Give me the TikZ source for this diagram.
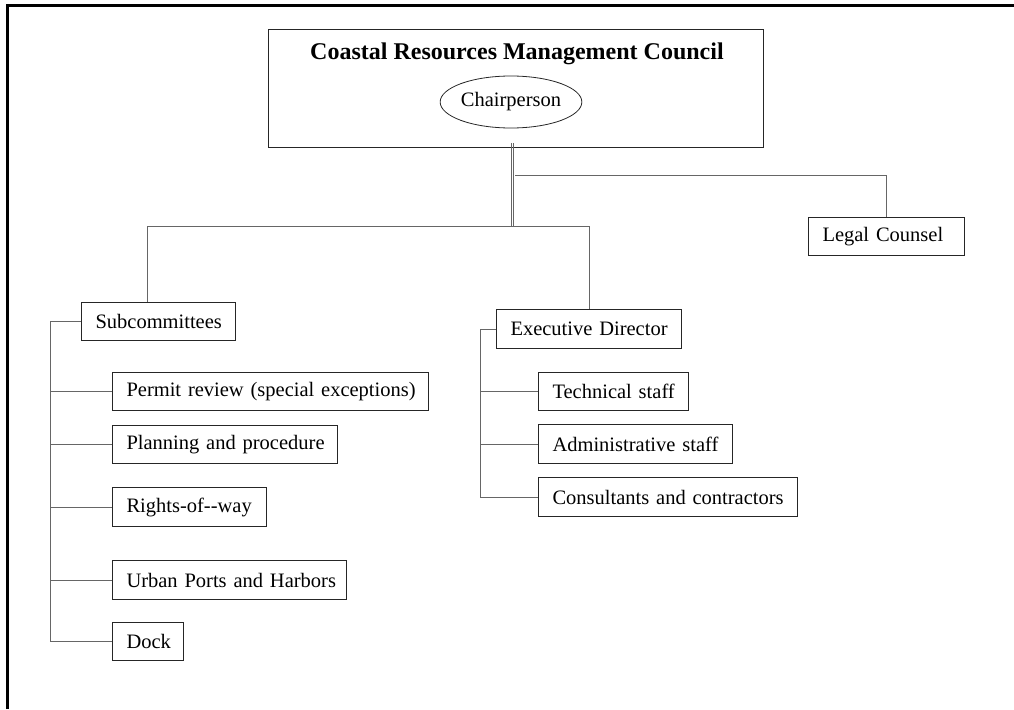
\documentclass[tikz,border=0pt]{standalone}
\usepackage{fontspec}
\setmainfont{Liberation Serif}
\usetikzlibrary{shapes.geometric}
\begin{document}
\begin{tikzpicture}[x=1pt,y=-1pt,
  box/.style={draw=black!85, line width=1pt, anchor=north west, inner xsep=14pt, inner ysep=0pt,
    font=\fontsize{20.5}{24}\selectfont, align=left},
  link/.style={draw=black!60, line width=1pt},
  frame/.style={line width=3pt, draw=black}]
\useasboundingbox (0,0) rectangle (1014,709);
\draw[frame] (7.5,709) -- (7.5,6) -- (1014,6);

% council
\node[draw=black!85, line width=1pt, anchor=north west, minimum width=495pt, minimum height=118pt, inner sep=0pt] (council) at (268,29) {};
\node[font=\fontsize{24}{28}\selectfont\bfseries] (title) at (517,54) {Coastal Resources Management Council};
\node[draw=black!85, line width=0.8pt, ellipse, minimum width=135pt, minimum height=52pt, inner sep=0pt, font=\fontsize{20.5}{24}\selectfont] (chair) at (511,102) {Chairperson};

% boxes
\node[box, minimum height=38pt, text width=126pt] (sub) at (81,302) {\mbox{Subcommittees}};
\node[box, minimum height=38pt, text width=288pt] (perm) at (112,372) {\mbox{Permit review (special exceptions)}};
\node[box, minimum height=38pt, text width=197pt] (plan) at (112,425) {\mbox{Planning and procedure}};
\node[box, minimum height=39pt, text width=126pt] (row) at (112,487) {\mbox{Rights-of-{}-way}};
\node[box, minimum height=39pt, text width=206pt] (urban) at (112,560) {\mbox{Urban Ports and Harbors}};
\node[box, minimum height=38pt, text width=43pt] (dock) at (112,622) {\mbox{Dock}};
\node[box, minimum height=39pt, text width=157pt] (exec) at (496,309) {\mbox{Executive Director}};
\node[box, minimum height=38pt, text width=122pt] (tech) at (538,372) {\mbox{Technical staff}};
\node[box, minimum height=39pt, text width=166pt] (admin) at (538,424) {\mbox{Administrative staff}};
\node[box, minimum height=39pt, text width=231pt] (cons) at (538,477) {\mbox{Consultants and contractors}};
\node[box, minimum height=38pt, text width=128pt] (legal) at (808,217) {\mbox{Legal Counsel}};

% connectors
\coordinate (stem) at (512,143);
\coordinate (hub) at (512,226);
\coordinate (lbr) at (515,175);
\draw[link] ([xshift=-1pt]stem) -- ([xshift=-1pt]hub);
\draw[link] ([xshift=1pt]stem) -- ([xshift=1pt]hub);
\draw[link] (hub) -| ([xshift=66pt]sub.north west);
\draw[link] (hub) -| ([xshift=93pt]exec.north west);
\draw[link] (lbr) -| ([xshift=78pt]legal.north west);

\draw[link] (sub.west) -- ++(-31pt,0) |- (dock.west);
\foreach \n in {perm,plan,row,urban}
  \draw[link] (\n.west) -- ++(-62pt,0);

\draw[link] (exec.west) -- ++(-16pt,0) |- (cons.west);
\foreach \n in {tech,admin}
  \draw[link] (\n.west) -- ++(-58pt,0);
\end{tikzpicture}
\end{document}
